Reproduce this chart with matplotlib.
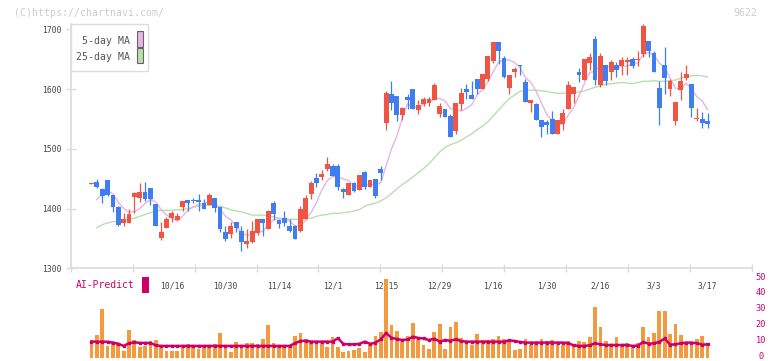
import numpy as np
import pandas as pd
import matplotlib
matplotlib.use('Agg')
import matplotlib.pyplot as plt
import matplotlib.transforms as mtransforms
from matplotlib.patches import Rectangle

# daily candles, oldest first (116 trading days)
opens = [1441.5, 1444, 1432, 1447, 1422, 1402, 1375, 1375.5, 1419, 1418,
         1428, 1434, 1407, 1350.5, 1368, 1385, 1381, 1403, 1414, 1414,
         1414, 1409, 1406, 1417, 1402, 1361, 1358, 1377, 1362, 1340.5,
         1344, 1359, 1382, 1365.5, 1409, 1381, 1384, 1370, 1370, 1363,
         1382, 1424, 1450.5, 1452, 1465.5, 1471, 1472, 1432, 1422, 1442,
         1431, 1460.5, 1436, 1449, 1465.5, 1544, 1592, 1589, 1556, 1586,
         1600.5, 1565.5, 1575.5, 1577, 1582, 1559, 1567, 1555.5, 1529, 1575.5,
         1600, 1590.5, 1617, 1600.5, 1617, 1647, 1679, 1652, 1602, 1629,
         1640.5, 1611, 1577, 1575.5, 1549, 1545, 1550.5, 1525.5, 1542, 1567,
         1592, 1629, 1615.5, 1644, 1684, 1607, 1640.5, 1629, 1640.5, 1638,
         1646, 1650.5, 1648, 1658, 1680.5, 1660, 1602, 1640.5, 1600.5, 1546,
         1598, 1619, 1609, 1549.5, 1550.5, 1547]
highs = [1443, 1450, 1435, 1448, 1422, 1404, 1392, 1399, 1428, 1443,
         1444, 1434, 1407, 1377, 1385.5, 1396, 1392, 1413, 1414, 1417,
         1424, 1416, 1426, 1418, 1402, 1371, 1377, 1377, 1371, 1365.5,
         1379, 1382, 1382, 1398, 1413, 1382, 1395.5, 1382, 1372, 1404,
         1422, 1445.5, 1459, 1464, 1485.5, 1474, 1474, 1435, 1442, 1444,
         1455.5, 1463, 1448, 1449, 1472, 1597, 1614, 1589, 1570, 1592,
         1600.5, 1582, 1586, 1586, 1610, 1577, 1567, 1559, 1577, 1602,
         1609, 1614, 1617, 1626, 1656, 1679, 1679, 1655, 1624, 1637,
         1641, 1617, 1582, 1576, 1549, 1549, 1564, 1549, 1567, 1613,
         1604, 1635, 1651, 1661, 1688, 1660.5, 1641, 1649, 1646, 1653,
         1653, 1653, 1664, 1709, 1681, 1664, 1613, 1670, 1617, 1579,
         1629, 1640.5, 1609, 1568, 1562, 1560]
lows = [1441, 1435, 1410, 1421, 1395, 1371, 1371, 1375, 1393, 1411,
        1413, 1406, 1371, 1348, 1368, 1378, 1381, 1395.5, 1396, 1410,
        1396, 1399, 1406, 1394, 1361, 1345.5, 1350, 1360, 1329, 1334,
        1342, 1355.5, 1354, 1365, 1381, 1367, 1371, 1360, 1349, 1360,
        1382, 1415.5, 1436, 1448, 1463, 1454, 1431, 1417, 1422, 1427,
        1431, 1433, 1436, 1418, 1448, 1531, 1565.5, 1546, 1549, 1567,
        1567, 1559, 1572, 1571, 1582, 1553, 1554, 1519, 1525.5, 1565.5,
        1584, 1584, 1592, 1600, 1614, 1644, 1642, 1619, 1592, 1621,
        1624, 1579, 1561, 1549, 1520, 1524, 1524, 1524, 1532, 1567,
        1577, 1611, 1615, 1632, 1607, 1604, 1606, 1615.5, 1621, 1624,
        1624, 1635, 1638, 1654, 1654, 1629, 1540.5, 1592, 1588, 1539,
        1582, 1615.5, 1554, 1546, 1535, 1535]
closes = [1442, 1435.5, 1421, 1422, 1402, 1373, 1382, 1390.5, 1426, 1428,
          1415.5, 1415.5, 1371, 1361, 1382, 1392, 1388, 1413, 1410, 1412,
          1411, 1399, 1422, 1400.5, 1365.5, 1349, 1370, 1368, 1344, 1345,
          1363, 1382, 1375, 1396, 1390.5, 1374, 1375.5, 1362, 1349, 1399,
          1417, 1442, 1442, 1457, 1474, 1454, 1436, 1427.7, 1442, 1429,
          1455.5, 1436, 1448, 1421, 1459, 1594, 1577, 1556, 1568, 1582,
          1567, 1574, 1584, 1584, 1607, 1572, 1554, 1519, 1577, 1593,
          1595.5, 1584, 1600.5, 1625.5, 1655.5, 1679, 1664, 1620.5, 1624, 1634,
          1638, 1579, 1582, 1549, 1536, 1540.5, 1525.5, 1548, 1560, 1607,
          1604, 1624, 1650.5, 1654, 1615.5, 1656, 1614, 1646, 1632, 1649,
          1649, 1638, 1650.5, 1705.5, 1663, 1629, 1568, 1619, 1613, 1579,
          1614, 1625.5, 1568, 1550, 1544, 1542]

# first 5-day MA points (need history before the window)
ma5_head = [np.nan, 1415, 1424, 1430]

# 25-day MA
ma25 = [np.nan, 1368, 1373, 1376, 1378, 1379, 1380, 1382, 1384, 1387,
        1390, 1393, 1396, 1397, 1397, 1397, 1398, 1398, 1400, 1402,
        1404, 1405, 1406, 1405, 1404, 1401, 1398, 1396, 1394, 1392,
        1389, 1389, 1389, 1388, 1386, 1384, 1383, 1382, 1382, 1382,
        1383, 1384, 1387, 1389, 1390, 1392, 1392, 1393, 1394, 1396,
        1398, 1404, 1407, 1409, 1413, 1418, 1425, 1433, 1440, 1446,
        1453, 1460, 1467, 1475, 1485, 1495, 1502, 1507, 1510, 1514,
        1520, 1525, 1532, 1538, 1545, 1555, 1565, 1575, 1584, 1590,
        1596, 1598, 1598, 1598, 1597, 1596, 1594, 1593, 1593, 1593,
        1594, 1595, 1597, 1600, 1603, 1605, 1608, 1609, 1610, 1611,
        1610, 1609, 1611, 1613, 1613, 1614, 1613, 1613, 1614, 1615,
        1618, 1621, 1622, 1623, 1622, 1620]

volume = [11.1, 14.3, 30.6, 7.4, 10.1, 9.1, 4.4, 17.4, 11.1, 6.9,
          7.4, 10.7, 11.1, 6.9, 4.4, 4.4, 4.4, 7.4, 8.6, 7.4,
          5.3, 6.5, 6.5, 8.6, 15.7, 6.5, 3.8, 10.1, 6.5, 9.5,
          9.5, 8.6, 12.0, 20.6, 9.5, 6.5, 6.5, 7.9, 13.6, 15.7,
          11.8, 10.1, 10.1, 10.1, 6.9, 13.2, 6.5, 3.8, 4.4, 4.8,
          5.9, 3.8, 7.9, 13.6, 16.3, 49.3, 20.6, 17.0, 10.1, 13.6,
          22.0, 11.1, 7.9, 5.3, 16.3, 21.2, 5.5, 19.3, 22.4, 12.2,
          10.1, 7.9, 14.9, 11.1, 11.1, 11.5, 13.6, 12.0, 10.1, 4.8,
          5.5, 11.8, 7.9, 9.1, 11.8, 10.7, 11.1, 9.5, 7.9, 10.5,
          7.7, 10.5, 9.9, 13.0, 31.9, 19.3, 10.7, 7.7, 13.0, 7.7,
          9.5, 7.7, 9.5, 19.3, 13.0, 15.5, 29.5, 29.5, 14.9, 21.2,
          14.3, 10.1, 9.1, 11.5, 13.6, 9.5]

ai_predict = [10.1, 10.1, 10.1, 10.0, 9.5, 8.8, 7.4, 9.1, 9.7, 9.3,
              9.3, 9.3, 7.8, 7.4, 7.4, 7.4, 7.4, 7.4, 7.4, 7.4,
              7.4, 7.4, 7.4, 7.4, 7.4, 7.4, 7.4, 7.4, 7.4, 7.4,
              7.4, 7.4, 7.4, 7.4, 7.4, 7.4, 7.4, 7.4, 9.1, 10.5,
              10.7, 10.1, 10.1, 10.1, 10.1, 10.1, 12.3, 8.7, 8.4, 8.4,
              8.7, 10.1, 8.7, 9.5, 11.5, 15.6, 12.5, 11.8, 11.1, 11.5,
              13.2, 12.4, 12.1, 11.1, 12.0, 10.1, 11.1, 10.7, 11.5, 10.5,
              10.1, 10.1, 10.1, 10.1, 10.1, 10.1, 10.1, 10.1, 10.9, 10.5,
              9.9, 9.5, 9.5, 9.5, 9.5, 9.5, 9.5, 9.5, 9.5, 9.1,
              7.8, 7.4, 7.4, 7.8, 9.1, 8.4, 8.0, 8.0, 8.0, 8.0,
              8.0, 7.4, 7.6, 9.9, 8.8, 9.1, 9.9, 12.1, 8.2, 8.4,
              9.1, 9.5, 9.5, 9.1, 8.2, 8.4]

date_labels = ['10/16', '10/30', '11/14', '12/1', '12/15', '12/29',
               '1/16', '1/30', '2/16', '3/3', '3/17']
vol_ticks = [0, 10, 20, 30, 40, 50]

n = len(closes)
idx = np.arange(n)
o = np.array(opens); c = np.array(closes)
hi = np.array(highs); lo = np.array(lows)

ma5 = pd.Series(closes).rolling(5).mean().to_numpy()
ma5[:4] = ma5_head

W, H = 772, 361
RED, BLUE = '#f05442', '#3f7ef0'
GRID = '#dcdcdc'
MONO = 'DejaVu Sans Mono'
MAGENTA = '#cc0066'

def fx(px):
    return px / W

def fy(py):
    return 1 - py / H

fig = plt.figure(figsize=(W / 100, H / 100), dpi=100)
xlim = (-3.88, 123.3)

# price panel
ax = fig.add_axes([fx(70.7), fy(268.3), fx(752) - fx(70.7), fy(24) - fy(268.3)])
ax.set_xlim(xlim)
ax.set_ylim(1300, 1300 + (268.3 - 24) / 0.5975)

ax.plot(idx, ma25, color='#b9dfae', lw=1.0, zorder=2)
ax.plot(idx, ma5, color='#e6b4e6', lw=1.0, zorder=2)

up = c >= o
colors = np.where(up, RED, BLUE)
ax.vlines(idx, lo, hi, colors=colors, lw=0.9, zorder=3)
body_lo = np.minimum(o, c)
body_h = np.maximum(np.abs(c - o), 1.5)
ax.bar(idx, body_h, bottom=body_lo, width=0.9, color=colors, lw=0, zorder=4)

for side in ['top', 'right']:
    ax.spines[side].set_visible(False)
for side in ['left', 'bottom']:
    ax.spines[side].set_color(GRID)
    ax.spines[side].set_linewidth(1.2)

ax.set_yticks([1300, 1400, 1500, 1600, 1700])
ax.tick_params(axis='y', direction='inout', length=6.5, width=1, color=GRID,
               labelsize=5.8, labelcolor='#444444', pad=3.5)
for t in ax.get_yticklabels():
    t.set_family(MONO)

ax.set_xticks(np.linspace(xlim[0], xlim[1], 12))
ax.set_xticks(range(15, n + 1, 10), date_labels, minor=True)
ax.tick_params(axis='x', which='major', direction='inout', length=5.8, width=1,
               color=GRID, labelbottom=False)
ax.tick_params(axis='x', which='minor', length=0, pad=9.5,
               labelsize=5.8, labelcolor='#444444')
for t in ax.get_xticklabels(minor=True):
    t.set_family(MONO)

# volume panel
axv = fig.add_axes([fx(70.7), fy(357.7), fx(752) - fx(70.7), fy(278.2) - fy(357.7)])
axv.set_xlim(xlim)
axv.set_ylim(0, 50)
axv.bar(idx, volume, width=0.7, color='#f39a3e', lw=0, zorder=2)
axv.plot(idx, ai_predict, color=MAGENTA, lw=1.8, marker='s', ms=2.0, zorder=3)
axv.axis('off')

# right-hand volume scale, nudged up a little so the 0 stays inside the image
lab_tr = mtransforms.blended_transform_factory(fig.transFigure, axv.transData) + \
    mtransforms.ScaledTranslation(0, 0.012, fig.dpi_scale_trans)
for v in vol_ticks:
    axv.text(fx(761), v, str(v), transform=lab_tr, ha='center', va='center',
             fontsize=6.2, family=MONO, color=MAGENTA, clip_on=False)

# legend box
fig.add_artist(Rectangle((fx(70.7), fy(71)), fx(148) - fx(70.7), fy(24.3) - fy(71),
                         transform=fig.transFigure, fc='white', ec='#dddddd',
                         lw=1.0, zorder=5))
fig.text(fx(129.5), fy(40.7), '5-day MA', ha='right', va='center', fontsize=7.1,
         family=MONO, color='#555555', zorder=6)
fig.text(fx(129.5), fy(56.7), '25-day MA', ha='right', va='center', fontsize=7.1,
         family=MONO, color='#555555', zorder=6)
fig.add_artist(Rectangle((fx(136.7), fy(46.7)), fx(6), fy(31.3) - fy(46.7),
                         transform=fig.transFigure, fc='#e6b4e6', ec='#666666',
                         lw=0.8, zorder=6))
fig.add_artist(Rectangle((fx(136.7), fy(63.3)), fx(6), fy(48.3) - fy(63.3),
                         transform=fig.transFigure, fc='#b9dfae', ec='#666666',
                         lw=0.8, zorder=6))

# AI-Predict label
fig.text(fx(76), fy(285.5), 'AI-Predict', ha='left', va='center', fontsize=7,
         family=MONO, color=MAGENTA)
fig.add_artist(Rectangle((fx(142.3), fy(292.7)), fx(6.7), fy(277.3) - fy(292.7),
                         transform=fig.transFigure, fc=MAGENTA, lw=0))

# watermark and code
fig.text(fx(14), fy(12.5), '(C)https://chartnavi.com/', ha='left', va='center',
         fontsize=7.1, family=MONO, color='#cccccc')
fig.text(fx(757), fy(12.5), '9622', ha='right', va='center',
         fontsize=7.1, family=MONO, color='#cccccc')

fig.savefig('out.png', dpi=100)
